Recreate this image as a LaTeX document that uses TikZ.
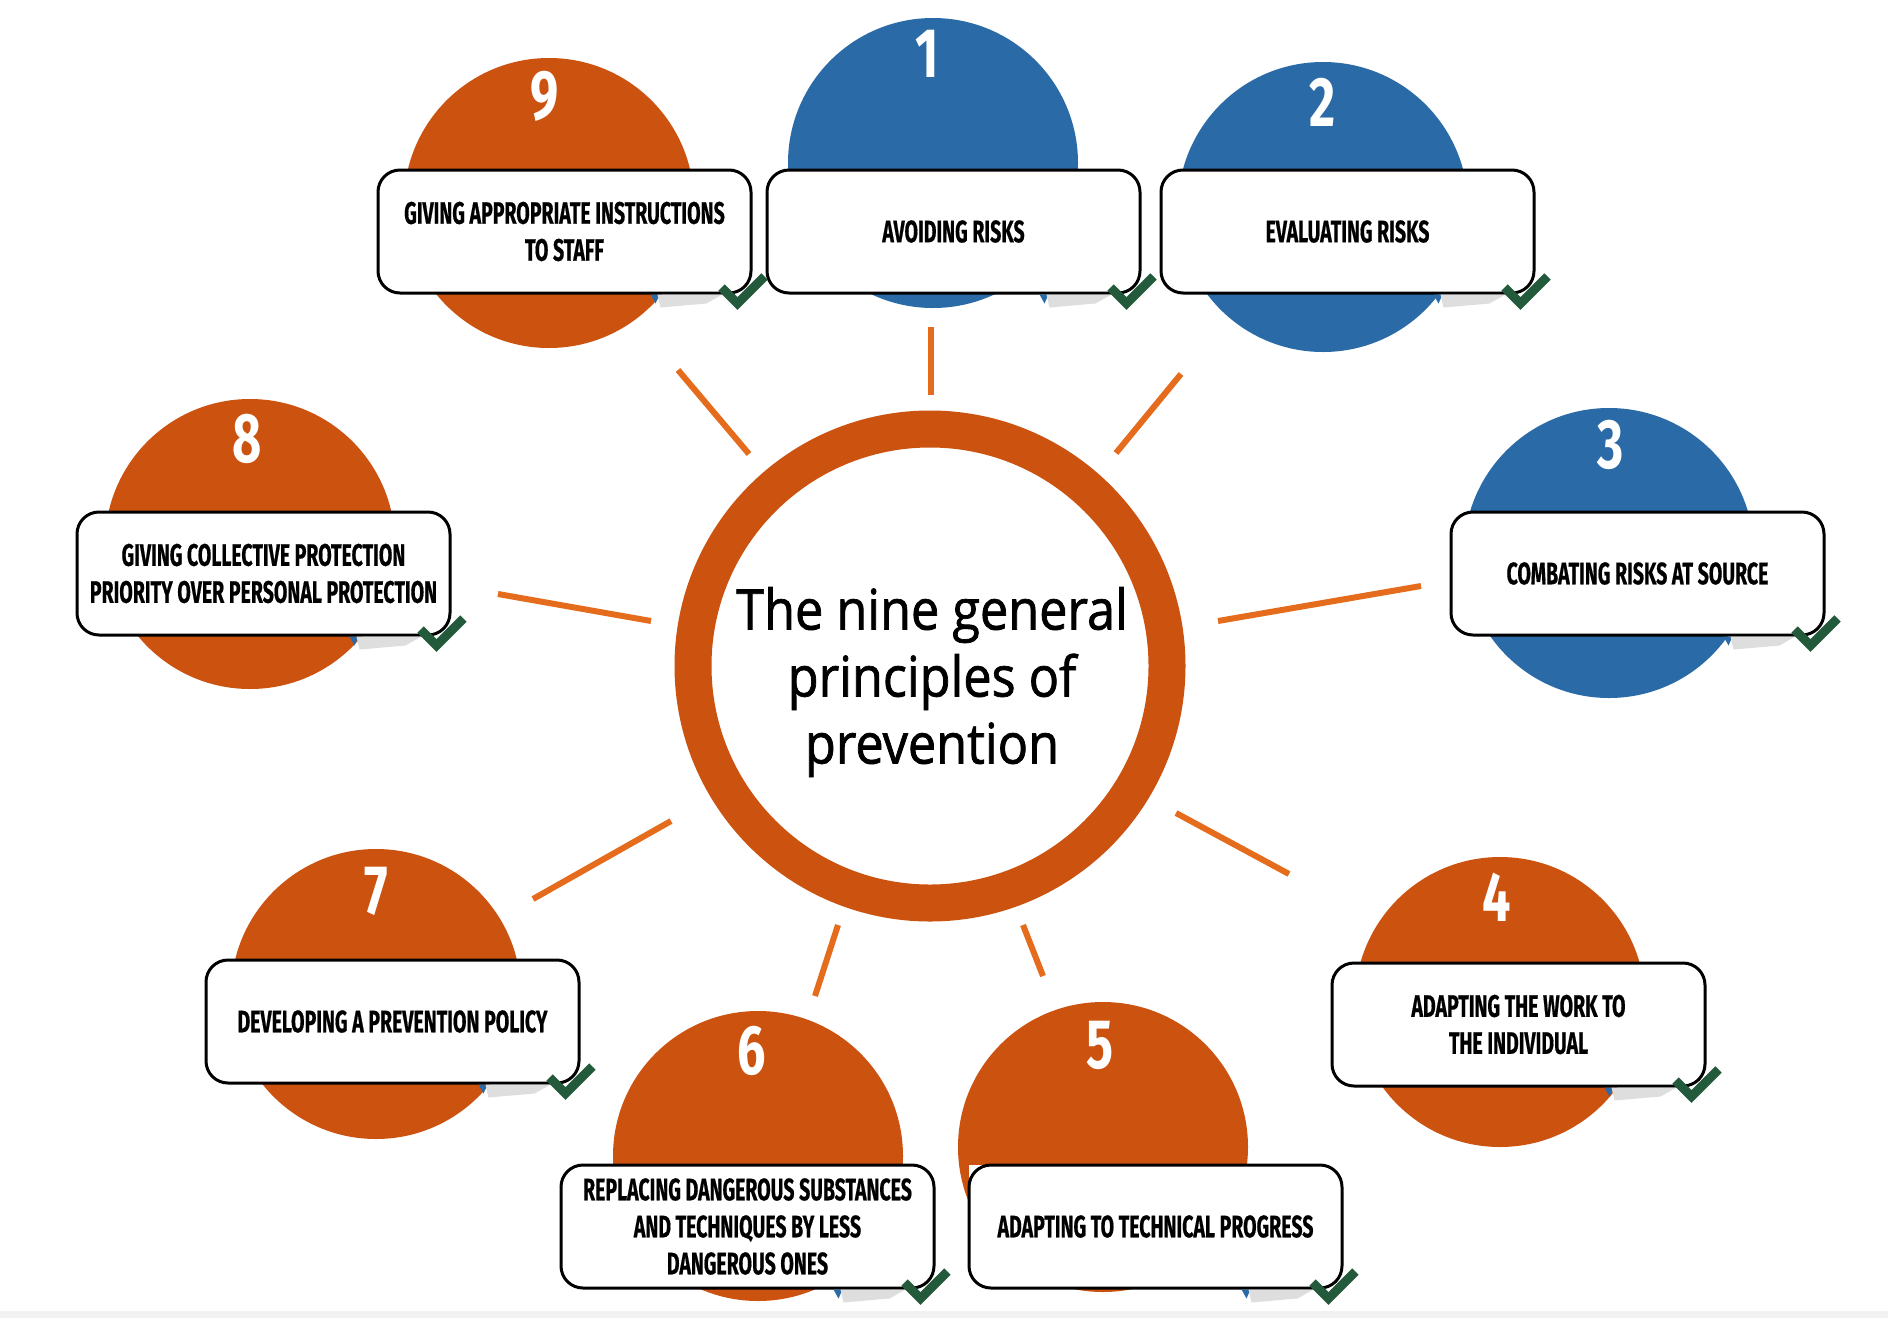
\documentclass[tikz,border=0pt]{standalone}
\usepackage{fontspec}
\newfontfamily\boxfont{Fira Sans}[FakeStretch=0.63,FakeBold=0.5]
\newfontfamily\numfont{Fira Sans}[FakeStretch=0.72]
\newfontfamily\centerfont{Open Sans}[FakeStretch=0.9,FakeBold=1.3]
\definecolor{orangeC}{RGB}{204,82,16}
\definecolor{blueC}{RGB}{42,106,166}
\definecolor{spokeC}{RGB}{228,108,28}
\definecolor{greenC}{RGB}{36,90,60}
\definecolor{shadowC}{RGB}{222,222,222}
\tikzset{
  circ/.style={circle, minimum size=290pt, inner sep=0pt, draw=none},
  numlabel/.style={text=white, font=\numfont\bfseries\fontsize{70}{70}\selectfont, inner sep=0pt},
  stepbox/.style={draw=black, line width=3pt, rounded corners=22pt, fill=white,
    minimum width=373pt, minimum height=123pt, inner sep=0pt, align=center,
    font=\boxfont\bfseries\fontsize{31}{37}\selectfont},
  spoke/.style={draw=spokeC, line width=6pt},
  checkline/.style={draw=greenC, line width=9pt, line cap=butt, line join=miter},
}
\newcommand{\boxdeco}[1]{%
  \fill[blueC] ([shift={(-102,0)}]#1.south east) -- ++(9,0) -- ++(-4,9) -- cycle;
  \fill[shadowC] ([shift={(-95,0)}]#1.south east) -- ++(65,0) -- ++(-16,9) -- ++(-46,4) -- cycle;
}
\newcommand{\checkat}[1]{%
  \draw[checkline] ([shift={(-31,-7)}]#1.south east) -- ++(16,16) -- ++(27,-27);
}
\begin{document}
\begin{tikzpicture}[x=1pt,y=-1pt]
\useasboundingbox (0,0) rectangle (1888,1318);
\fill[white] (0,0) rectangle (1888,1318);
\fill[gray!10] (0,1311) rectangle (1888,1318);

% spokes
\coordinate (s1a) at (931,327);  \coordinate (s1b) at (931,395);
\coordinate (s2a) at (1181,374); \coordinate (s2b) at (1116,453);
\coordinate (s3a) at (1421,586); \coordinate (s3b) at (1218,621);
\coordinate (s4a) at (1176,813); \coordinate (s4b) at (1289,874);
\coordinate (s5a) at (1023,925); \coordinate (s5b) at (1043,976);
\coordinate (s6a) at (838,925);  \coordinate (s6b) at (815,996);
\coordinate (s7a) at (671,821);  \coordinate (s7b) at (533,899);
\coordinate (s8a) at (498,594);  \coordinate (s8b) at (651,621);
\coordinate (s9a) at (678,370);  \coordinate (s9b) at (749,454);
\foreach \i in {1,...,9} \draw[spoke] (s\i a) -- (s\i b);

% centre ring
\node[circle, draw=orangeC, line width=37pt, minimum size=474pt, inner sep=0pt] (hub) at (930,666) {};
\node[font=\centerfont\fontsize{56}{67}\selectfont, align=center, inner sep=0pt] (hubtext) at (932,682)
  {The nine general\\principles of\\prevention};

% circles
\node[circ, fill=orangeC] (c9) at (549,203) {};
\node[circ, fill=blueC]   (c1) at (933,163) {};
\node[circ, fill=blueC]   (c2) at (1323,207) {};
\node[circ, fill=blueC]   (c3) at (1609,553) {};
\node[circ, fill=orangeC] (c8) at (250,544) {};
\node[circ, fill=orangeC] (c7) at (376,994) {};
\node[circ, fill=orangeC] (c6) at (758,1156) {};
\node[circ, fill=orangeC] (c5) at (1103,1147) {};
\node[circ, fill=orangeC] (c4) at (1500,1002) {};

% numbers
\node[numlabel] (n9) at (545,96) {9};
\node[numlabel] (n1) at (927,54) {1};
\node[numlabel] (n2) at (1323,102) {2};
\node[numlabel] (n3) at (1611,445) {3};
\node[numlabel] (n8) at (247,439) {8};
\node[numlabel] (n7) at (376,891) {7};
\node[numlabel] (n6) at (752,1051) {6};
\node[numlabel] (n5) at (1100,1045) {5};
\node[numlabel] (n4) at (1497,897) {4};

% white corner on box 5
\fill[white] (969,1165) rectangle (1000,1200);

% boxes
\coordinate (b9p) at (564.5,231.5);
\coordinate (b1p) at (953.5,231.5);
\coordinate (b2p) at (1347.5,231.5);
\coordinate (b3p) at (1637.5,573.5);
\coordinate (b8p) at (263.5,573.5);
\coordinate (b7p) at (392.5,1021.5);
\coordinate (b4p) at (1518.5,1024.5);
\coordinate (b6p) at (747.5,1226.5);
\coordinate (b5p) at (1155.5,1226.5);

\node[stepbox] (b9) at (b9p) {GIVING APPROPRIATE INSTRUCTIONS\\TO STAFF};
\node[stepbox] (b1) at (b1p) {AVOIDING RISKS};
\node[stepbox] (b2) at (b2p) {EVALUATING RISKS};
\node[stepbox] (b3) at (b3p) {COMBATING RISKS AT SOURCE};
\node[stepbox] (b8) at (b8p) {GIVING COLLECTIVE PROTECTION\\PRIORITY OVER PERSONAL PROTECTION};
\node[stepbox] (b7) at (b7p) {DEVELOPING A PREVENTION POLICY};
\node[stepbox] (b4) at (b4p) {ADAPTING THE WORK TO\\THE INDIVIDUAL};
\node[stepbox] (b6) at (b6p) {REPLACING DANGEROUS SUBSTANCES\\AND TECHNIQUES BY LESS\\DANGEROUS ONES};
\node[stepbox] (b5) at (b5p) {ADAPTING TO TECHNICAL PROGRESS};

\foreach \b in {b9,b1,b2,b3,b8,b7,b4,b6,b5} {\boxdeco{\b}}
\foreach \b in {b9,b1,b2,b3,b8,b7,b4,b6,b5} {\checkat{\b}}
\end{tikzpicture}
\end{document}
